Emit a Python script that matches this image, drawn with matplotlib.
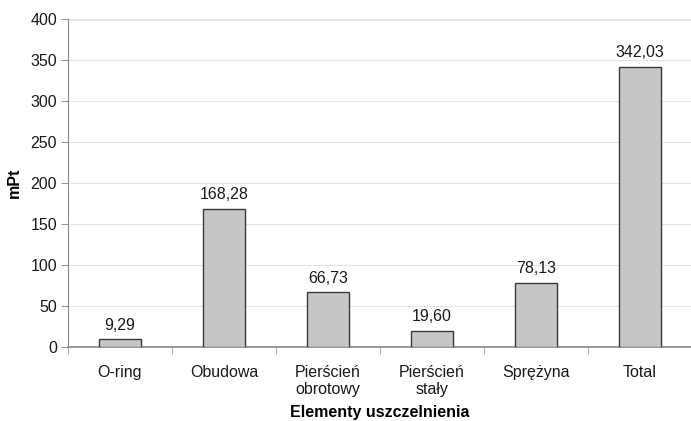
import matplotlib
matplotlib.use("Agg")
from matplotlib import pyplot as plt
import numpy as np

plt.rcParams['font.family'] = ['Liberation Sans', 'DejaVu Sans']

categories = ['O-ring', 'Obudowa', 'Pierścień\nobrotowy', 'Pierścień\nstały', 'Sprężyna', 'Total']
values = [9.29, 168.28, 66.73, 19.60, 78.13, 342.03]
labels = ['9,29', '168,28', '66,73', '19,60', '78,13', '342,03']
yticks = [0, 50, 100, 150, 200, 250, 300, 350, 400]

fs = 11.5
fig = plt.figure(figsize=(6.91, 4.21), dpi=100)
ax = fig.add_axes([68/691, 74/421, 624/691, 328/421])

x = np.arange(len(categories))
ax.bar(x, values, width=0.4, color='#c6c6c6', edgecolor='#3a3a3a', linewidth=1.0, zorder=3)
for xi, v, lab in zip(x, values, labels):
    ax.text(xi, v + 8, lab, ha='center', va='bottom', fontsize=fs, color='#1a1a1a')

ax.set_xlim(-0.5, len(categories) - 0.5)
ax.set_ylim(0, 400)
ax.set_yticks(yticks)
ax.set_xticks(x)
ax.set_xticklabels(categories, fontsize=fs, color='#1a1a1a', linespacing=1.15)
ax.set_xticks(np.arange(-0.5, len(categories), 1.0), minor=True)
ax.tick_params(axis='x', which='major', length=0, pad=13)
ax.tick_params(axis='x', which='minor', length=5, color='#999999')
ax.tick_params(axis='y', length=5, color='#999999', labelsize=fs, labelcolor='#1a1a1a', pad=3)

ax.grid(axis='y', color='#e4e4e4', linewidth=0.8, zorder=0)
ax.axhline(400, color='#888888', linewidth=1.0, zorder=1)

for s in ['top', 'right']:
    ax.spines[s].set_visible(False)
ax.spines['left'].set_color('#888888')
ax.spines['bottom'].set_color('#888888')
ax.spines['bottom'].set_linewidth(1.2)

ax.set_ylabel('mPt', fontsize=fs, fontweight='bold', labelpad=6)
ax.set_xlabel('Elementy uszczelnienia', fontsize=fs, fontweight='bold', labelpad=6)

fig.savefig('out.png', dpi=100)
